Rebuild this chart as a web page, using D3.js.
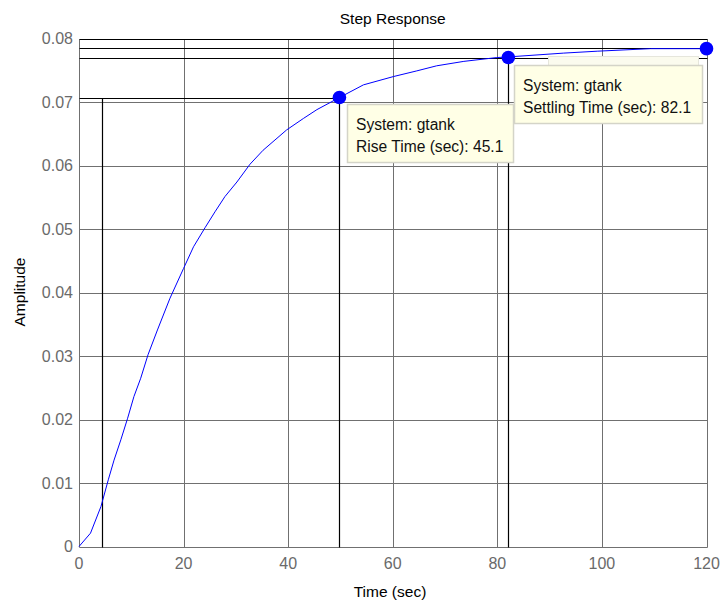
<!DOCTYPE html>
<html><head><meta charset="utf-8">
<script src="https://cdn.jsdelivr.net/npm/d3@7"></script>
<style>
body{margin:0;background:#fff;}
svg{display:block;font-family:"Liberation Sans",Arial,sans-serif;}
</style></head>
<body>
<svg id="c" width="721" height="605"></svg>
<script>
// ---- data ----
const timeSec = [0, 2.2, 4.2, 5.6, 6.7, 8.0, 9.3, 10.5, 11.8, 13.2, 15.0, 17.4, 20.0, 21.9, 24.1, 26.0, 27.9, 30.2, 32.7, 35.2, 39.7, 42.9, 45.5, 49.8, 54.4, 60.1, 64.6, 68.4, 73.6, 79.9, 82.1, 92.7, 99.1, 109.3, 120];
const amplitude = [0, 0.0021, 0.0063, 0.0105, 0.0136, 0.0168, 0.0202, 0.0236, 0.0265, 0.0302, 0.0341, 0.0391, 0.0438, 0.0472, 0.0502, 0.0527, 0.0551, 0.0574, 0.0602, 0.0624, 0.0656, 0.0674, 0.0688, 0.0707, 0.0727, 0.0740, 0.0749, 0.0757, 0.0764, 0.0770, 0.0771, 0.0777, 0.0780, 0.0784, 0.0784];
const xTicks = [0, 20, 40, 60, 80, 100, 120];
const xTickLabels = ["0", "20", "40", "60", "80", "100", "120"];
const yTicks = [0, 0.01, 0.02, 0.03, 0.04, 0.05, 0.06, 0.07, 0.08];
const yTickLabels = ["0", "0.01", "0.02", "0.03", "0.04", "0.05", "0.06", "0.07", "0.08"];
const riseLow = [4.4, 0.0707];      // 10% crossing (time), rise level
const risePoint = [49.8, 0.0707];   // rise-time marker
const settlePoint = [82.1, 0.0770]; // settling-time marker
const finalPoint = [120, 0.0784];   // end marker
const steadyLevel = 0.0785;
const settleLevel = 0.0770;
const riseTip = ["System: gtank", "Rise Time (sec): 45.1"];
const settleTip = ["System: gtank", "Settling Time (sec): 82.1"];
const titleText = "Step Response", xLabel = "Time (sec)", yLabel = "Amplitude";

// ---- layout ----
const L = 79, R = 706.5, T = 38.5, B = 546.5;
const x = d3.scaleLinear().domain([0, 120]).range([L, R]);
const y = d3.scaleLinear().domain([0, 0.08]).range([B, T]);
const cx = v => Math.round(x(v)) + 0.5;
const cy = v => Math.round(y(v)) + 0.5;

const svg = d3.select("#c");
const grid = svg.append("g");
grid.selectAll(".gx").data(xTicks).join("line")
  .attr("x1", d => cx(d)).attr("x2", d => cx(d)).attr("y1", cy(0.08)).attr("y2", cy(0))
  .attr("stroke", "#707070").attr("stroke-width", 1);
grid.selectAll(".gy").data(yTicks).join("line")
  .attr("x1", cx(0)).attr("x2", cx(120)).attr("y1", d => cy(d)).attr("y2", d => cy(d))
  .attr("stroke", "#707070").attr("stroke-width", 1);

// tick labels
svg.append("g").selectAll("text").data(xTicks).join("text")
  .attr("x", d => x(d)).attr("y", 569).attr("text-anchor", "middle")
  .attr("font-size", 16).attr("fill", "#6a6a6a").text((d, i) => xTickLabels[i]);
svg.append("g").selectAll("text").data(yTicks).join("text")
  .attr("x", 73).attr("y", d => y(d) + 5.5).attr("text-anchor", "end")
  .attr("font-size", 16).attr("fill", "#6a6a6a").text((d, i) => yTickLabels[i]);

// characteristic lines
const k = svg.append("g").attr("stroke", "#000").attr("stroke-width", 1.2).attr("fill", "none");
k.append("line").attr("x1", cx(0)).attr("x2", cx(risePoint[0])).attr("y1", cy(riseLow[1])).attr("y2", cy(riseLow[1]));
k.append("line").attr("x1", cx(riseLow[0])).attr("x2", cx(riseLow[0])).attr("y1", cy(riseLow[1])).attr("y2", cy(0));
k.append("line").attr("x1", cx(risePoint[0])).attr("x2", cx(risePoint[0])).attr("y1", cy(risePoint[1])).attr("y2", cy(0));
k.append("line").attr("x1", cx(0)).attr("x2", cx(120)).attr("y1", cy(steadyLevel)).attr("y2", cy(steadyLevel));
k.append("line").attr("x1", cx(0)).attr("x2", cx(120)).attr("y1", cy(settleLevel)).attr("y2", cy(settleLevel));
k.append("line").attr("x1", cx(settlePoint[0])).attr("x2", cx(settlePoint[0])).attr("y1", cy(settleLevel)).attr("y2", cy(0));
k.append("line").attr("x1", cx(0)).attr("x2", cx(120)).attr("y1", cy(0.08)).attr("y2", cy(0.08));

// response curve
const pts = timeSec.map((t, i) => [t, amplitude[i]]);
svg.append("path").datum(pts)
  .attr("d", d3.line().x(d => x(d[0])).y(d => y(d[1])))
  .attr("fill", "none").attr("stroke", "#0000ff").attr("stroke-width", 1);

// markers
svg.append("g").selectAll("circle").data([risePoint, settlePoint, finalPoint]).join("circle")
  .attr("cx", d => x(d[0])).attr("cy", d => y(d[1])).attr("r", 6.8).attr("fill", "#0000ff");

// datatips
function tip(px, py, w, lines, ghost) {
  const g = svg.append("g");
  if (ghost) {
    g.append("rect").attr("x", ghost[0] + 0.5).attr("y", ghost[1] + 0.5).attr("width", ghost[2]).attr("height", ghost[3])
      .attr("fill", "#fbfbee").attr("stroke", "#e6e6dc");
  }
  g.append("rect").attr("x", px + 0.5).attr("y", py + 0.5).attr("width", w).attr("height", 58)
    .attr("fill", "#ffffe6").attr("stroke", "#d4d4c8").attr("stroke-width", 1.5);
  g.selectAll("text").data(lines).join("text")
    .attr("x", px + 9).attr("y", (d, i) => py + 26 + i * 22)
    .attr("font-size", 15.6).attr("fill", "#111").text(d => d);
}
tip(514, 65, 188, settleTip, [548, 56, 150, 20]);
tip(347, 104, 166, riseTip);

// titles
svg.append("text").attr("x", (L + R) / 2).attr("y", 24).attr("text-anchor", "middle")
  .attr("font-size", 15.5).attr("fill", "#000").text(titleText);
svg.append("text").attr("x", 390).attr("y", 597).attr("text-anchor", "middle")
  .attr("font-size", 15.5).attr("fill", "#000").text(xLabel);
svg.append("text").attr("transform", "translate(25,292) rotate(-90)").attr("text-anchor", "middle")
  .attr("font-size", 15.5).attr("fill", "#000").text(yLabel);
</script>
</body></html>
